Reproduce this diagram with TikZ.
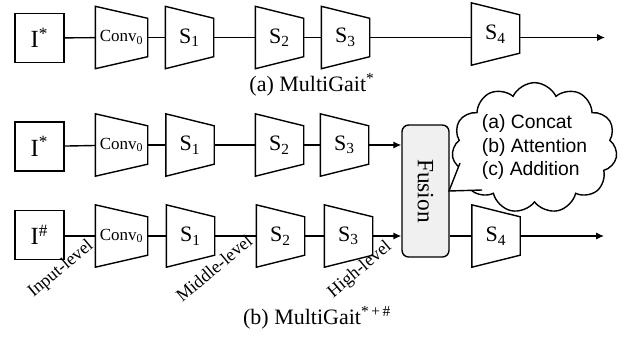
\documentclass[tikz,border=0pt]{standalone}
\usepackage{fontspec}
\setmainfont{Liberation Serif}
\newfontfamily\cloudfont{Liberation Sans}
\usetikzlibrary{shapes.symbols,arrows.meta,calc}
\begin{document}
\begin{tikzpicture}[x=0.75pt,y=-0.75pt, line width=1.05pt,
  inbox/.style={draw, inner sep=0, minimum width=36.75pt, minimum height=36.75pt, font=\fontsize{18.5}{20}\selectfont},
  stagebox/.style={inner sep=0, minimum width=35.25pt, minimum height=45.75pt, font=\fontsize{16.5}{18}\selectfont},
  convbox/.style={inner sep=0, minimum width=38.25pt, minimum height=45.75pt, font=\fontsize{12.75}{14}\selectfont},
  conn/.style={draw},
  arr/.style={draw, -{Latex[length=6pt,width=5.5pt]}},
  lvl/.style={rotate=40, font=\fontsize{13.5}{15}\selectfont, inner sep=0},
  captext/.style={font=\fontsize{16.5}{18}\selectfont, inner sep=0},
  fusionbox/.style={draw, fill=black!6, rounded corners=5pt, inner sep=0, minimum width=35.25pt, minimum height=99pt, font=\fontsize{17.5}{19}\selectfont}
]
\useasboundingbox (0,0) rectangle (630,337);

% ---------- (a) ----------
\node[inbox] (ia) at (39.5,38) {I\textsuperscript{*}};
\node[convbox] (c0a) at (121.5,37.5) {Conv\textsubscript{0}};
\node[stagebox] (s1a) at (189.5,37.5) {S\textsubscript{1}};
\node[stagebox] (s2a) at (279.5,37.5) {S\textsubscript{2}};
\node[stagebox] (s3a) at (345.5,37.5) {S\textsubscript{3}};
\node[stagebox] (s4a) at (495.5,34) {S\textsubscript{4}};
\coordinate (enda) at (605,37.5);
\draw[conn] (ia) -- (c0a);
\draw[conn] (c0a) -- (s1a);
\draw[conn] (s1a) -- (s2a);
\draw[conn] (s2a) -- (s3a);
\draw[conn] (s3a.east) -- (s3a.east -| s4a.west);
\draw[arr] (s3a.east -| s4a.east) -- (enda);
\node[captext] (capa) at (312,85) {(a) MultiGait\textsuperscript{*}};

% ---------- (b) upper ----------
\node[inbox] (ib) at (39.5,146.5) {I\textsuperscript{*}};
\node[convbox] (c0b) at (121.5,145) {Conv\textsubscript{0}};
\node[stagebox] (s1b) at (190,145) {S\textsubscript{1}};
\node[stagebox] (s2b) at (279.5,145) {S\textsubscript{2}};
\node[stagebox] (s3b) at (344.5,145) {S\textsubscript{3}};
\node[fusionbox] (fu) at (425.5,191) {\rotatebox{-90}{Fusion}};
\draw[conn] (ib) -- (c0b);
\draw[conn] (c0b) -- (s1b);
\draw[conn] (s1b) -- (s2b);
\draw[conn] (s2b) -- (s3b);
\draw[arr] (s3b.east) -- (s3b.east -| fu.west);

% ---------- (b) lower ----------
\node[inbox] (ic) at (39.5,235) {I\textsuperscript{\#}};
\node[convbox] (c0c) at (121.5,236) {Conv\textsubscript{0}};
\node[stagebox] (s1c) at (190.5,236) {S\textsubscript{1}};
\node[stagebox] (s2c) at (280.5,236) {S\textsubscript{2}};
\node[stagebox] (s3c) at (348.5,236) {S\textsubscript{3}};
\node[stagebox] (s4c) at (496,236) {S\textsubscript{4}};
\coordinate (endc) at (604,236);
\draw[conn] (ic.east |- c0c) -- (c0c);
\draw[conn] (c0c) -- (s1c);
\draw[conn] (s1c) -- (s2c);
\draw[conn] (s2c) -- (s3c);
\draw[arr] (s3c.east) -- (s3c.east -| fu.west);
\draw[conn] (fu.east |- s4c) -- (s4c.west);
\draw[arr] (s4c.east) -- (endc);

% trapezoids
\foreach \n in {c0a,s1a,s2a,s3a,s4a,c0b,s1b,s2b,s3b,c0c,s1c,s2c,s3c,s4c}
  \draw (\n.north west) -- ($(\n.north east)+(0,12)$) -- ($(\n.south east)+(0,-12)$) -- (\n.south west) -- cycle;

% level labels
\node[lvl] (lin) at (61,269) {Input-level};
\node[lvl] (lmid) at (214,268) {Middle-level};
\node[lvl] (lhi) at (360,270) {High-level};
\node[captext] (capb) at (317,318) {(b) MultiGait\textsuperscript{*\,+\,\#}};

% cloud callout
\node[cloud, draw, fill=white, cloud puffs=11, cloud puff arc=130, cloud ignores aspect,
      minimum width=124pt, minimum height=98pt, inner sep=0] (cl) at (534.5,148) {};
\coordinate (ptr) at (449,191);
\coordinate (t1) at (460,163);
\coordinate (t2) at (482,190);
\fill[white] (ptr) -- (t1) -- (474,168) -- (480,180) -- (t2) -- cycle;
\draw (t1) -- (ptr) -- (t2);
\node[align=left, inner sep=0, font=\cloudfont\fontsize{14.5}{17.6}\selectfont] (cltext) at (534.5,147)
  {(a) Concat\\(b) Attention\\(c) Addition};
\end{tikzpicture}
\end{document}
